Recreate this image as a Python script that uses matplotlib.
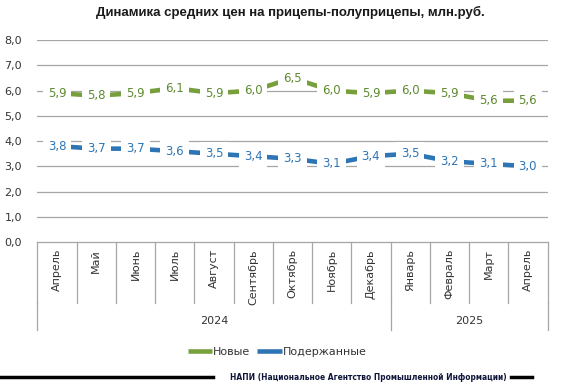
import matplotlib.pyplot as plt
import numpy as np

months = ["Апрель", "Май", "Июнь", "Июль", "Август", "Сентябрь", "Октябрь",
          "Ноябрь", "Декабрь", "Январь", "Февраль", "Март", "Апрель"]
years = ["2024", "2025"]
year_counts = [9, 4]
new_prices = [5.9, 5.8, 5.9, 6.1, 5.9, 6.0, 6.5, 6.0, 5.9, 6.0, 5.9, 5.6, 5.6]
used_prices = [3.8, 3.7, 3.7, 3.6, 3.5, 3.4, 3.3, 3.1, 3.4, 3.5, 3.2, 3.1, 3.0]

green = "#77A03C"
blue = "#2E75B6"
green_txt = "#5E8A2F"
blue_txt = "#2E75B6"
grid_c = "#A6A6A6"

fig = plt.figure(figsize=(5.8, 3.9), dpi=100)
ax = fig.add_axes([0.0645, 0.3795, 0.8795, 0.5175])

x = np.arange(len(months))
ax.set_xlim(-0.5, len(months) - 0.5)
ax.set_ylim(0, 8)
yt = np.arange(0, 9, 1.0)
ax.set_yticks(yt)
ax.set_yticklabels([f"{v:.1f}".replace(".", ",") for v in yt], fontsize=8, color="#333333")
ax.tick_params(axis="y", length=0, pad=11)
ax.set_xticks([])
for v in yt[1:]:
    ax.axhline(v, color=grid_c, lw=0.9, zorder=1)
for s in ["top", "right", "left"]:
    ax.spines[s].set_visible(False)
ax.spines["bottom"].set_color(grid_c)
ax.spines["bottom"].set_linewidth(0.9)

ax.plot(x, new_prices, color=green, lw=3.3, solid_capstyle="butt", zorder=2, label="Новые")
ax.plot(x, used_prices, color=blue, lw=3.3, solid_capstyle="butt", zorder=2, label="Подержанные")

for xi, v in zip(x, new_prices):
    ax.text(xi, v, f"{v:.1f}".replace(".", ","), ha="center", va="center", fontsize=8.5,
            color=green_txt, zorder=3,
            bbox=dict(boxstyle="square,pad=0.42", fc="white", ec="none"))
for xi, v in zip(x, used_prices):
    ax.text(xi, v, f"{v:.1f}".replace(".", ","), ha="center", va="center", fontsize=8.5,
            color=blue_txt, zorder=3,
            bbox=dict(boxstyle="square,pad=0.42", fc="white", ec="none"))

# category axis (months + years)
trans = ax.get_xaxis_transform()
month_bottom = -0.3
year_bottom = -0.435
for b in np.arange(-0.5, len(months), 1.0):
    ax.plot([b, b], [0, month_bottom], color=grid_c, lw=0.9, transform=trans, clip_on=False)
for xi, m in zip(x, months):
    ax.text(xi, -0.035, m, rotation=90, ha="center", va="top", fontsize=8,
            color="#333333", transform=trans)
bounds = [-0.5]
for c in year_counts:
    bounds.append(bounds[-1] + c)
for b in bounds:
    ax.plot([b, b], [month_bottom, year_bottom], color=grid_c, lw=0.9, transform=trans, clip_on=False)
for i, yname in enumerate(years):
    ax.text((bounds[i] + bounds[i + 1]) / 2, -0.39, yname, ha="center", va="center",
            fontsize=8, color="#333333", transform=trans)

fig.text(0.5, 0.968, "Динамика средних цен на прицепы-полуприцепы, млн.руб.",
         ha="center", va="center", fontsize=9.5, fontweight="bold",
         family="Liberation Sans", color="#1a1a1a")

leg = fig.legend(loc="center", bbox_to_anchor=(0.478, 0.097), ncol=2, frameon=False,
                 fontsize=8, handlelength=2.2, handletextpad=0.1, columnspacing=0.6)
for t in leg.get_texts():
    t.set_color("#333333")

# footer
fig.add_artist(plt.Line2D([0.0, 0.368], [0.033, 0.033], color="black", lw=2.5))
fig.add_artist(plt.Line2D([0.881, 0.918], [0.033, 0.033], color="black", lw=2.5))
fig.text(0.635, 0.033, "НАПИ (Национальное Агентство Промышленной Информации)",
         ha="center", va="center", fontsize=6.0, fontweight="bold",
         fontstretch="condensed", color="#10163A")

fig.savefig("out.png", dpi=100)
